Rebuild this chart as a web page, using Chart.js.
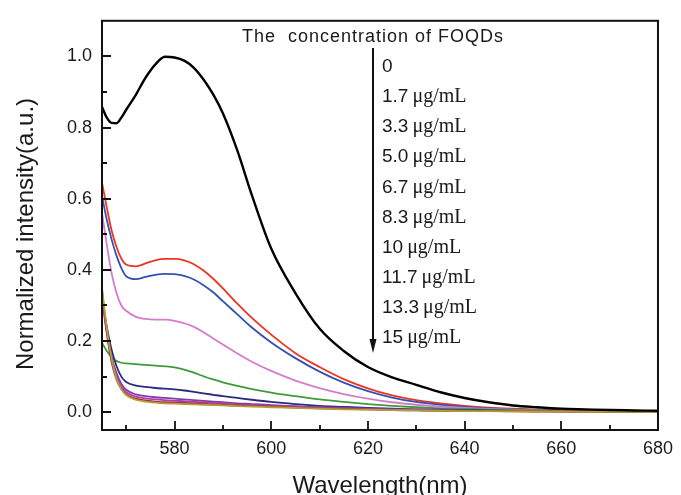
<!DOCTYPE html>
<html>
<head>
<meta charset="utf-8">
<script src="https://cdn.jsdelivr.net/npm/chart.js@4"></script>
<style>
	html, body { margin: 0; padding: 0; background: #fff; }
</style>
</head>
<body>
<canvas id="chart" width="681" height="495"></canvas>
<script>
var wavelengths = [565, 566, 567, 568, 569, 570, 572, 574, 576, 578, 580, 582, 584, 586, 588, 590, 593, 596, 600, 605, 610, 615, 620, 625, 630, 635, 640, 645, 650, 655, 660, 665, 670, 675, 680]

var conc0 = [0.858, 0.828, 0.813, 0.812, 0.828, 0.85, 0.892, 0.94, 0.977, 0.999, 0.997, 0.988, 0.968, 0.935, 0.893, 0.84, 0.735, 0.61, 0.46, 0.335, 0.235, 0.172, 0.127, 0.098, 0.077, 0.056, 0.04, 0.028, 0.019, 0.014, 0.01, 0.008, 0.006, 0.005, 0.004]
var conc1_7 = [0.645, 0.575, 0.51, 0.465, 0.432, 0.415, 0.41, 0.418, 0.427, 0.431, 0.431, 0.427, 0.416, 0.398, 0.375, 0.348, 0.305, 0.265, 0.218, 0.166, 0.127, 0.093, 0.067, 0.047, 0.034, 0.025, 0.018, 0.013, 0.01, 0.008, 0.006, 0.005, 0.004, 0.003, 0.003]
var conc3_3 = [0.608, 0.54, 0.485, 0.44, 0.405, 0.382, 0.374, 0.38, 0.386, 0.389, 0.388, 0.383, 0.373, 0.357, 0.337, 0.312, 0.275, 0.238, 0.196, 0.152, 0.114, 0.083, 0.059, 0.041, 0.029, 0.021, 0.015, 0.011, 0.008, 0.006, 0.005, 0.004, 0.003, 0.003, 0.002]
var conc5_0 = [0.56, 0.47, 0.39, 0.335, 0.3, 0.285, 0.268, 0.262, 0.26, 0.26, 0.257, 0.25, 0.24, 0.225, 0.207, 0.19, 0.165, 0.142, 0.116, 0.089, 0.068, 0.051, 0.038, 0.028, 0.021, 0.016, 0.012, 0.009, 0.007, 0.005, 0.004, 0.003, 0.003, 0.002, 0.002]
var conc6_7 = [0.195, 0.172, 0.155, 0.144, 0.139, 0.137, 0.135, 0.133, 0.131, 0.129, 0.126, 0.12, 0.111, 0.101, 0.092, 0.084, 0.074, 0.065, 0.055, 0.045, 0.036, 0.029, 0.023, 0.018, 0.014, 0.011, 0.009, 0.007, 0.006, 0.005, 0.004, 0.003, 0.003, 0.002, 0.002]
var conc8_3 = [0.32, 0.24, 0.175, 0.13, 0.1, 0.085, 0.075, 0.071, 0.068, 0.066, 0.064, 0.061, 0.057, 0.053, 0.049, 0.045, 0.04, 0.035, 0.029, 0.023, 0.018, 0.015, 0.012, 0.01, 0.008, 0.007, 0.006, 0.005, 0.004, 0.004, 0.003, 0.003, 0.002, 0.002, 0.002]
var conc10 = [0.33, 0.23, 0.155, 0.11, 0.08, 0.063, 0.05, 0.045, 0.042, 0.04, 0.038, 0.036, 0.034, 0.032, 0.03, 0.028, 0.025, 0.023, 0.02, 0.017, 0.014, 0.012, 0.01, 0.008, 0.007, 0.006, 0.005, 0.004, 0.004, 0.003, 0.003, 0.002, 0.002, 0.002, 0.002]
var conc11_7 = [0.32, 0.22, 0.145, 0.1, 0.072, 0.056, 0.044, 0.039, 0.036, 0.034, 0.032, 0.031, 0.029, 0.028, 0.026, 0.025, 0.022, 0.02, 0.018, 0.015, 0.012, 0.01, 0.009, 0.007, 0.006, 0.005, 0.004, 0.004, 0.003, 0.003, 0.002, 0.002, 0.002, 0.002, 0.002]
var conc13_3 = [0.34, 0.225, 0.14, 0.092, 0.065, 0.05, 0.038, 0.033, 0.03, 0.028, 0.027, 0.026, 0.025, 0.024, 0.022, 0.021, 0.019, 0.018, 0.016, 0.013, 0.011, 0.009, 0.008, 0.006, 0.005, 0.004, 0.004, 0.003, 0.003, 0.002, 0.002, 0.002, 0.002, 0.001, 0.001]
var conc15 = [0.35, 0.235, 0.15, 0.095, 0.065, 0.048, 0.035, 0.03, 0.027, 0.025, 0.024, 0.023, 0.022, 0.021, 0.02, 0.019, 0.017, 0.016, 0.014, 0.012, 0.01, 0.008, 0.007, 0.006, 0.005, 0.004, 0.003, 0.003, 0.002, 0.002, 0.002, 0.001, 0.001, 0.001, 0.001]

var seriesLabels = ['0', '1.7', '3.3', '5.0', '6.7', '8.3', '10', '11.7', '13.3', '15']
var seriesValues = [conc0, conc1_7, conc3_3, conc5_0, conc6_7, conc8_3, conc10, conc11_7, conc13_3, conc15]
var seriesColors = ['#000000', '#ee3522', '#3352b0', '#d47ccc', '#3f9a3c', '#2a2a82', '#7f3fa6', '#b23db0', '#a8303e', '#b09f33']

var xTicks = [580, 600, 620, 640, 660, 680]
var yTicks = [0, 0.2, 0.4, 0.6, 0.8, 1.0]

var sans = "'Liberation Sans', Arial, sans-serif"
var serif = "'Liberation Serif', 'Times New Roman', serif"

function toPoints(values) {
	return wavelengths.map(function (w, i) {
		return { x: w, y: values[i] }
	})
}

var decorations = {
	id: 'decorations',
	afterDraw: function (chart) {
		var ctx = chart.ctx
		var a = chart.chartArea
		var xs = chart.scales.x
		var ys = chart.scales.y
		ctx.save()

		// frame
		ctx.strokeStyle = '#111'
		ctx.lineWidth = 2
		ctx.strokeRect(a.left, a.top, a.right - a.left, a.bottom - a.top)

		// inward ticks, bottom and left only
		ctx.lineWidth = 1.8
		ctx.beginPath()
		for (var w = 570; w < 680; w += 10) {
			var px = Math.round(xs.getPixelForValue(w))
			var len = w % 20 === 0 ? 9 : 5
			ctx.moveTo(px, a.bottom)
			ctx.lineTo(px, a.bottom - len)
		}
		for (var k = 0; k <= 10; k++) {
			var py = Math.round(ys.getPixelForValue(k / 10))
			var l2 = k % 2 === 0 ? 9 : 5
			ctx.moveTo(a.left, py)
			ctx.lineTo(a.left + l2, py)
		}
		ctx.stroke()

		// axis titles
		ctx.fillStyle = '#1a1a1a'
		ctx.font = '24px ' + sans
		ctx.textAlign = 'center'
		ctx.textBaseline = 'alphabetic'
		ctx.fillText('Wavelength(nm)', (a.left + a.right) / 2, 493)
		ctx.save()
		ctx.translate(33, 234)
		ctx.rotate(-Math.PI / 2)
		ctx.fillText('Normalized intensity(a.u.)', 0, 0)
		ctx.restore()

		// concentration legend with arrow
		var ax = Math.round(xs.getPixelForValue(621))
		ctx.font = '18px ' + sans
		ctx.letterSpacing = '1px'
		ctx.fillText('The  concentration of FOQDs', ax, 41.5)
		ctx.letterSpacing = '0px'

		ctx.strokeStyle = '#111'
		ctx.lineWidth = 2
		ctx.beginPath()
		ctx.moveTo(ax, 48)
		ctx.lineTo(ax, 342)
		ctx.stroke()
		ctx.fillStyle = '#111'
		ctx.beginPath()
		ctx.moveTo(ax - 3.5, 339)
		ctx.lineTo(ax + 3.5, 339)
		ctx.lineTo(ax, 353)
		ctx.closePath()
		ctx.fill()

		ctx.textAlign = 'left'
		ctx.fillStyle = '#1a1a1a'
		seriesLabels.forEach(function (lab, i) {
			var by = 72.3 + i * 30.05
			var lx = ax + 9
			ctx.font = '19px ' + sans
			ctx.fillText(lab, lx, by)
			if (lab !== '0') {
				var wdt = ctx.measureText(lab).width
				ctx.font = '20px ' + serif
				ctx.fillText('\u03bcg/mL', lx + wdt + 4, by)
			}
		})
		ctx.restore()
	}
}

var datasets = seriesValues.map(function (vals, i) {
	return {
		label: seriesLabels[i],
		data: toPoints(vals),
		borderColor: seriesColors[i],
		backgroundColor: seriesColors[i],
		borderWidth: i === 0 ? 2.4 : 1.8,
		order: i === 0 ? 0 : 10 - i
	}
})

var chart = new Chart(document.getElementById('chart'), {
	type: 'line',
	data: { datasets: datasets },
	options: {
		responsive: false,
		animation: false,
		layout: { padding: { top: 15, right: 18, left: 0, bottom: 0 } },
		elements: {
			point: { radius: 0 },
			line: { cubicInterpolationMode: 'monotone' }
		},
		plugins: {
			legend: { display: false },
			tooltip: { enabled: false }
		},
		scales: {
			x: {
				type: 'linear',
				min: 565,
				max: 680,
				grid: { display: false, drawTicks: false },
				border: { display: false },
				afterBuildTicks: function (scale) {
					scale.ticks = xTicks.map(function (v) { return { value: v } })
				},
				afterFit: function (scale) { scale.height = 65 },
				ticks: {
					padding: 8,
					autoSkip: false,
					maxRotation: 0,
					color: '#1a1a1a',
					font: { family: sans, size: 18 }
				}
			},
			y: {
				type: 'linear',
				min: -0.05,
				max: 1.1,
				grid: { display: false, drawTicks: false },
				border: { display: false },
				afterBuildTicks: function (scale) {
					scale.ticks = yTicks.map(function (v) { return { value: v } })
				},
				afterFit: function (scale) { scale.width = 102 },
				ticks: {
					padding: 10,
					color: '#1a1a1a',
					font: { family: sans, size: 18 },
					callback: function (v) { return Number(v).toFixed(1) }
				}
			}
		}
	},
	plugins: [decorations]
})
</script>
</body>
</html>
